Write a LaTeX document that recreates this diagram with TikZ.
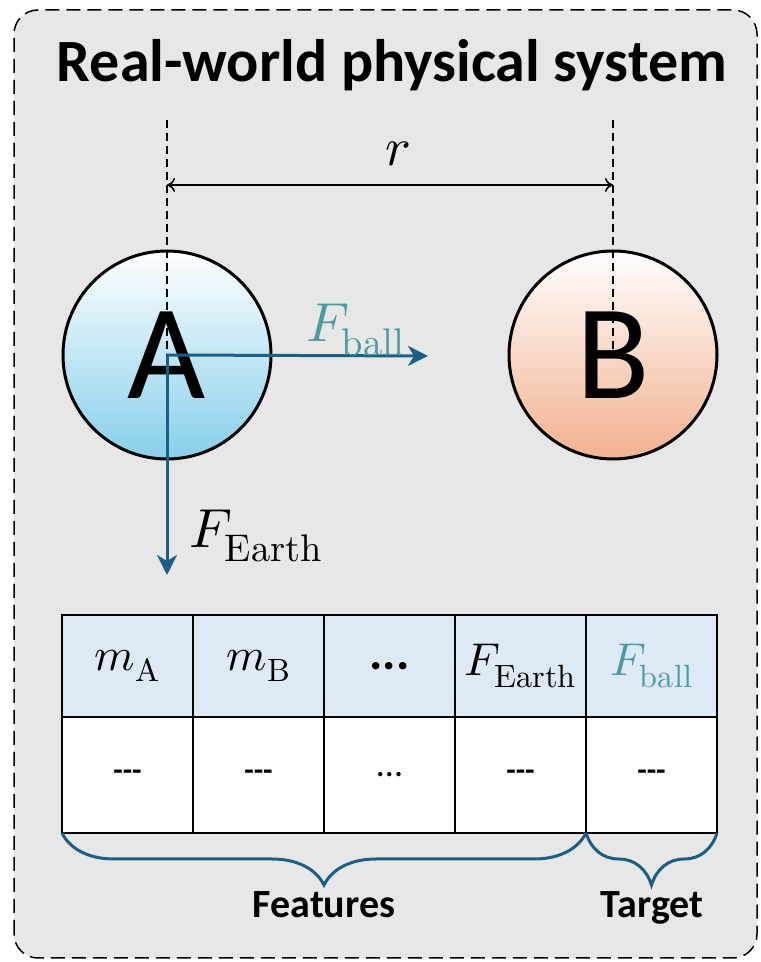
\documentclass[tikz,border=0pt]{standalone}
\usepackage{fontspec}
\usepackage{unicode-math}
\setmainfont{Carlito}
\setmathfont{Latin Modern Math}
\usetikzlibrary{arrows.meta,decorations.pathreplacing,positioning}

\definecolor{panelgray}{HTML}{E7E7E7}
\definecolor{forceblue}{HTML}{1C5F84}
\definecolor{ballteal}{HTML}{4B9CA2}
\definecolor{headblue}{HTML}{DDE9F5}
\definecolor{ballAblue}{HTML}{86CFEB}
\definecolor{ballBorange}{HTML}{F3B18F}

\tikzset{
  ball/.style={circle, draw, line width=3pt, minimum size=208pt, inner sep=0pt,
    font=\fontsize{135}{135}\selectfont},
  force/.style={-{Stealth[length=20pt,width=20pt,inset=6pt]}, line width=3pt, forceblue},
  guide/.style={line width=1.5pt, dash pattern=on 8pt off 5pt},
  headcell/.style={draw, fill=headblue, line width=2.5pt, minimum width=131pt,
    minimum height=102pt, inner sep=0pt, outer sep=0pt, anchor=north west,
    font=\fontsize{46}{52}\selectfont},
  datacell/.style={draw, fill=white, line width=2.5pt, minimum width=131pt,
    minimum height=116pt, inner sep=0pt, outer sep=0pt},
  brace/.style={decorate, decoration={brace, mirror, amplitude=52pt}, line width=3pt, forceblue},
  bracelabel/.style={anchor=base, font=\fontsize{40}{48}\selectfont\bfseries}
}

\begin{document}
\begin{tikzpicture}[x=1pt, y=1pt]
\useasboundingbox (0,0) rectangle (761,962);
% panel
\draw[fill=panelgray, line width=1.5pt, dash pattern=on 14pt off 7pt, rounded corners=24pt]
  (14,4) rectangle (757,952);
\node[anchor=base, font=\fontsize{60}{70}\selectfont\bfseries] (title) at (392,880)
  {Real-world physical system};

% the two balls
\node[ball, top color=white, bottom color=ballAblue] (A) at (167,607) {A};
\node[ball, top color=white, bottom color=ballBorange] (B) at (613,607) {B};

% distance r
\coordinate (topA) at (167,842);
\coordinate (topB) at (613,842);
\coordinate (rA) at (167,777);
\coordinate (rB) at (613,777);
\draw[guide] (topA) -- (A.center);
\draw[guide] (topB) -- ([yshift=5pt]B.center);
\draw[{To[length=8pt,width=14pt]}-{To[length=8pt,width=14pt]}, line width=1.5pt] (rA) -- (rB);
\node[font=\fontsize{54}{60}\selectfont] (r) at (398,808) {$r$};

% forces on A
\coordinate (fballend) at (428,606);
\coordinate (fearthend) at (167,387);
\draw[force] (A.center) -- (fballend);
\draw[force] (A.center) -- (fearthend);
\node[anchor=base west, ballteal, font=\fontsize{55}{60}\selectfont] (fball) at (303,620)
  {$F_{\symup{ball}}$};
\node[anchor=base west, font=\fontsize{55}{60}\selectfont] (fearth) at (186,414)
  {$F_{\symup{Earth}}$};

% data table
\foreach \i/\head/\cellval in {0/{$m_{\symup{A}}$}/{\bfseries -{}-{}-},
    1/{$m_{\symup{B}}$}/{\bfseries -{}-{}-},
    2/{\fontsize{50}{54}\selectfont\bfseries ...}/{\fontsize{36}{40}\selectfont ...},
    3/{$F_{\symup{Earth}}$}/{\bfseries -{}-{}-},
    4/{\textcolor{ballteal}{$F_{\symup{ball}}$}}/{\bfseries -{}-{}-}}
{
  \node[headcell] (h\i) at (62+131*\i,347) {\head};
  \node[datacell, below=0pt of h\i, font=\fontsize{31}{36}\selectfont] (d\i) {\cellval};
}

% braces
\draw[brace] (d0.south west) -- (d3.south east);
\draw[brace] (d4.south west) -- (d4.south east);
\node[bracelabel] (features) at (324,45) {Features};
\node[bracelabel] (target) at (652,45) {Target};
\end{tikzpicture}
\end{document}
